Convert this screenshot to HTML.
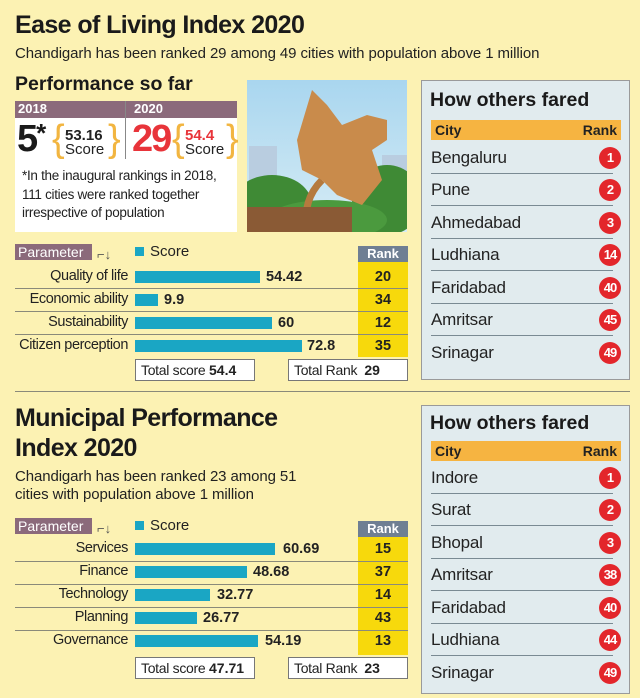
<!DOCTYPE html>
<html><head><meta charset="utf-8"><style>
*{margin:0;padding:0;box-sizing:border-box}
body{width:640px;height:698px;background:#fcf2b3;position:relative;overflow:hidden;font-family:"Liberation Sans",sans-serif;color:#222}
.a{position:absolute;white-space:nowrap}
.t{font-family:"Liberation Sans",sans-serif;font-weight:bold;font-size:25px;letter-spacing:-0.6px;color:#1a1a1a}
.sub{font-size:15px;color:#222;letter-spacing:-0.1px}
.h2{font-family:"Liberation Sans",sans-serif;font-weight:bold;font-size:19.5px;color:#1a1a1a}
.panel{position:absolute;left:421px;width:209px;background:#e1ebee;border:1px solid #9a9a9a}
.ph{position:absolute;left:9px;right:8px;background:#f6b441;height:20px;font-family:"Liberation Sans",sans-serif;font-weight:bold;font-size:14px;line-height:20px;padding:0 4px}
.row{position:absolute;left:9px;right:16px;height:32px;font-size:17px;line-height:32px;border-bottom:1px solid #7a8a93;letter-spacing:-0.2px}
.row .c{position:absolute;right:-8px;top:5px;width:22px;height:22px;border-radius:50%;background:#e3262b;color:#fff;font-family:"Liberation Sans",sans-serif;font-weight:bold;font-size:13px;line-height:22px;text-align:center;letter-spacing:-1px}
.lab{position:absolute;right:512px;font-size:14.5px;text-align:right;letter-spacing:-0.4px}
.bar{position:absolute;left:135px;height:12px;background:#1aa6c4}
.val{position:absolute;font-family:"Liberation Sans",sans-serif;font-weight:bold;font-size:14.5px}
.sep{position:absolute;left:15px;width:393px;border-top:1px solid #8a8a7a}
.rk{position:absolute;left:358px;width:50px;text-align:center;font-family:"Liberation Sans",sans-serif;font-weight:bold;font-size:14.5px}
.box{position:absolute;background:#fff;border:1px solid #777;height:22px;font-size:14px;line-height:20px;padding-left:5px;letter-spacing:-0.3px}
.box b{font-family:"Liberation Sans",sans-serif;font-size:14px;letter-spacing:0}
.par{position:absolute;left:15px;width:77px;height:16px;background:#8b6a7b;color:#fff;font-size:14px;line-height:16px;padding-left:3px}
</style></head><body>

<div class="a t" style="left:15px;top:11px">Ease of Living Index 2020</div>
<div class="a sub" style="left:15px;top:45px">Chandigarh has been ranked 29 among 49 cities with population above 1 million</div>
<div class="a h2" style="left:15px;top:73px">Performance so far</div>

<div class="a" style="left:15px;top:101px;width:222px;height:131px;background:#fff"></div>
<div class="a" style="left:15px;top:101px;width:222px;height:17px;background:#8b6a7b"></div>
<div class="a" style="left:18px;top:101px;color:#fff;font-weight:bold;font-size:13px">2018</div>
<div class="a" style="left:134px;top:101px;color:#fff;font-weight:bold;font-size:13px">2020</div>
<div class="a" style="left:125px;top:101px;height:58px;border-left:1px solid #888"></div>
<div class="a" style="left:17px;top:118px;font-weight:bold;font-size:38px;color:#1a1a1a;letter-spacing:-2px">5<span style="font-size:26px;vertical-align:top">*</span></div>
<div class="a" style="left:52px;top:118px;color:#f2b540;font-size:38px">{</div>
<div class="a" style="left:65px;top:127px;font-weight:bold;font-size:15px">53.16</div>
<div class="a" style="left:65px;top:141px;font-size:15px">Score</div>
<div class="a" style="left:108px;top:118px;color:#f2b540;font-size:38px">}</div>
<div class="a" style="left:132px;top:118px;font-weight:bold;font-size:38px;color:#e8343a;letter-spacing:-2px">29</div>
<div class="a" style="left:172px;top:118px;color:#f2b540;font-size:38px">{</div>
<div class="a" style="left:185px;top:127px;font-weight:bold;font-size:15px;color:#e8343a">54.4</div>
<div class="a" style="left:185px;top:141px;font-size:15px">Score</div>
<div class="a" style="left:226px;top:118px;color:#f2b540;font-size:38px">}</div>
<div class="a" style="left:22px;top:167px;font-size:13.5px;line-height:18.5px;letter-spacing:-0.3px">*In the inaugural rankings in 2018,<br>111 cities were ranked together<br>irrespective of population</div>

<svg class="a" style="left:247px;top:80px" width="160" height="152" viewBox="0 0 160 152">
<defs><linearGradient id="s" x1="0" y1="0" x2="0" y2="1"><stop offset="0" stop-color="#a9d6ef"/><stop offset="1" stop-color="#d6ecf5"/></linearGradient></defs>
<rect width="160" height="152" fill="url(#s)"/>
<rect x="2" y="66" width="28" height="60" fill="#b9cde0"/><rect x="135" y="75" width="25" height="60" fill="#b9cde0"/>
<ellipse cx="25" cy="125" rx="40" ry="30" fill="#3f8a35"/><ellipse cx="140" cy="120" rx="35" ry="35" fill="#3f8a35"/><ellipse cx="80" cy="140" rx="60" ry="20" fill="#4b9a3e"/>
<path d="M60 150 Q55 120 75 100" stroke="#b57a3e" stroke-width="7" fill="none"/>
<path d="M65 10 L80 25 L95 45 L120 35 L140 40 L140 60 L125 70 L135 100 L115 125 L90 115 L75 100 L55 90 L50 60 Z" fill="#c98b4b"/>
<rect x="0" y="127" width="105" height="25" fill="#8a5a35"/>
</svg>

<div class="panel" style="top:80px;height:300px">
<div class="a h2" style="left:8px;top:8px">How others fared</div>
<div class="ph" style="top:39px">City<span style="float:right">Rank</span></div>
<div class="row" style="top:61px">Bengaluru<span class="c">1</span></div>
<div class="row" style="top:93px">Pune<span class="c">2</span></div>
<div class="row" style="top:126px">Ahmedabad<span class="c">3</span></div>
<div class="row" style="top:158px">Ludhiana<span class="c">14</span></div>
<div class="row" style="top:191px">Faridabad<span class="c">40</span></div>
<div class="row" style="top:223px">Amritsar<span class="c">45</span></div>
<div class="row" style="top:256px;border:none">Srinagar<span class="c">49</span></div>
</div>

<div class="par" style="top:244px">Parameter</div>
<div class="a" style="left:97px;top:247px;font-size:13px;color:#555">⌐↓</div>
<div class="a" style="left:135px;top:247px;width:9px;height:9px;background:#1aa6c4"></div>
<div class="a" style="left:150px;top:243px;font-size:15px">Score</div>
<div class="a" style="left:358px;top:262px;width:50px;height:95px;background:#f7d90c"></div>
<div class="a" style="left:358px;top:246px;width:50px;height:16px;background:#6f7f93;color:#fff;font-weight:bold;font-size:13px;text-align:center;line-height:16px">Rank</div>
<div class="sep" style="top:288px"></div><div class="sep" style="top:311px"></div><div class="sep" style="top:334px"></div>
<div class="lab" style="top:268px">Quality of life</div>
<div class="lab" style="top:291px">Economic ability</div>
<div class="lab" style="top:314px">Sustainability</div>
<div class="lab" style="top:337px">Citizen perception</div>
<div class="bar" style="top:271px;width:125px"></div><div class="val" style="left:266px;top:269px">54.42</div>
<div class="bar" style="top:294px;width:23px"></div><div class="val" style="left:164px;top:292px">9.9</div>
<div class="bar" style="top:317px;width:137px"></div><div class="val" style="left:278px;top:315px">60</div>
<div class="bar" style="top:340px;width:167px"></div><div class="val" style="left:307px;top:338px">72.8</div>
<div class="rk" style="top:269px">20</div><div class="rk" style="top:292px">34</div><div class="rk" style="top:315px">12</div><div class="rk" style="top:338px">35</div>
<div class="box" style="left:135px;top:359px;width:120px">Total score <b>54.4</b></div>
<div class="box" style="left:288px;top:359px;width:120px">Total Rank &nbsp;<b>29</b></div>

<div class="a" style="left:15px;top:391px;width:615px;border-top:1px solid #8a8a7a"></div>

<div class="a t" style="left:15px;top:403px;line-height:30px">Municipal Performance<br>Index 2020</div>
<div class="a sub" style="left:15px;top:468px;line-height:18px">Chandigarh has been ranked 23 among 51<br>cities with population above 1 million</div>
<div class="par" style="top:518px">Parameter</div>
<div class="a" style="left:97px;top:521px;font-size:13px;color:#555">⌐↓</div>
<div class="a" style="left:135px;top:521px;width:9px;height:9px;background:#1aa6c4"></div>
<div class="a" style="left:150px;top:517px;font-size:15px">Score</div>
<div class="a" style="left:358px;top:537px;width:50px;height:118px;background:#f7d90c"></div>
<div class="a" style="left:358px;top:521px;width:50px;height:16px;background:#6f7f93;color:#fff;font-weight:bold;font-size:13px;text-align:center;line-height:16px">Rank</div>
<div class="sep" style="top:561px"></div><div class="sep" style="top:584px"></div><div class="sep" style="top:607px"></div><div class="sep" style="top:630px"></div>
<div class="lab" style="top:540px">Services</div>
<div class="lab" style="top:563px">Finance</div>
<div class="lab" style="top:586px">Technology</div>
<div class="lab" style="top:609px">Planning</div>
<div class="lab" style="top:632px">Governance</div>
<div class="bar" style="top:543px;width:140px"></div><div class="val" style="left:283px;top:541px">60.69</div>
<div class="bar" style="top:566px;width:112px"></div><div class="val" style="left:253px;top:564px">48.68</div>
<div class="bar" style="top:589px;width:75px"></div><div class="val" style="left:217px;top:587px">32.77</div>
<div class="bar" style="top:612px;width:62px"></div><div class="val" style="left:203px;top:610px">26.77</div>
<div class="bar" style="top:635px;width:123px"></div><div class="val" style="left:265px;top:633px">54.19</div>
<div class="rk" style="top:541px">15</div><div class="rk" style="top:564px">37</div><div class="rk" style="top:587px">14</div><div class="rk" style="top:610px">43</div><div class="rk" style="top:633px">13</div>
<div class="box" style="left:135px;top:657px;width:120px">Total score <b>47.71</b></div>
<div class="box" style="left:288px;top:657px;width:120px">Total Rank &nbsp;<b>23</b></div>

<div class="panel" style="top:405px;height:289px">
<div class="a h2" style="left:8px;top:6px">How others fared</div>
<div class="ph" style="top:35px">City<span style="float:right">Rank</span></div>
<div class="row" style="top:56px">Indore<span class="c">1</span></div>
<div class="row" style="top:88px">Surat<span class="c">2</span></div>
<div class="row" style="top:121px">Bhopal<span class="c">3</span></div>
<div class="row" style="top:153px">Amritsar<span class="c">38</span></div>
<div class="row" style="top:186px">Faridabad<span class="c">40</span></div>
<div class="row" style="top:218px">Ludhiana<span class="c">44</span></div>
<div class="row" style="top:251px;border:none">Srinagar<span class="c">49</span></div>
</div>
</body></html>
